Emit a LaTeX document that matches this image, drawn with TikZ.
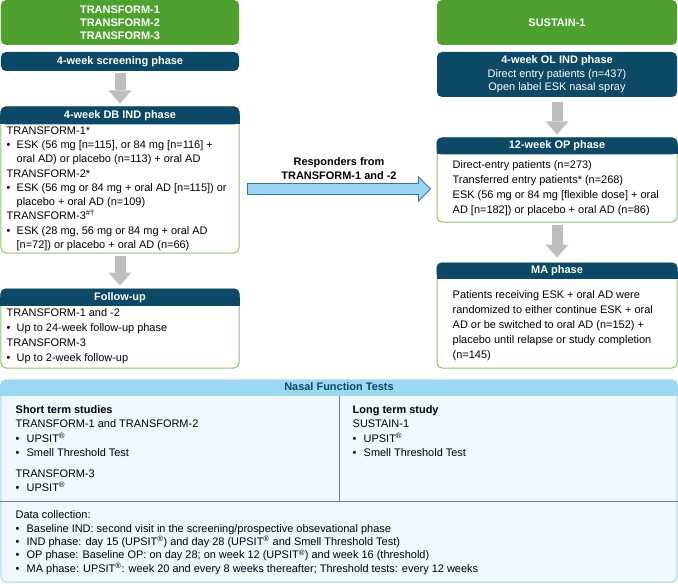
\documentclass[tikz,border=0pt]{standalone}
\usepackage{fontspec}
\setmainfont{Liberation Sans}
\usetikzlibrary{arrows.meta,positioning,calc}

\definecolor{studygreen}{RGB}{79,161,47}
\definecolor{phasenavy}{RGB}{11,73,102}
\definecolor{boxgreen}{RGB}{141,198,106}
\definecolor{arrowgrey}{RGB}{190,190,190}
\definecolor{nasalblue}{RGB}{157,215,241}
\definecolor{nasalbg}{RGB}{238,248,253}
\definecolor{respblue}{RGB}{157,214,242}
\definecolor{respline}{RGB}{52,118,172}
\definecolor{divgrey}{RGB}{125,125,125}

\tikzset{
  study/.style={fill=studygreen, text=white, rounded corners=5bp, minimum width=238bp,
    minimum height=45bp, inner sep=0pt, align=center, font=\fontsize{11}{13}\selectfont\bfseries},
  navybox/.style={fill=phasenavy, text=white, rounded corners=5bp, minimum width=238bp,
    inner sep=0pt, align=center, font=\fontsize{11}{13.5}\selectfont},
  phasebody/.style={draw=boxgreen, fill=white, line width=1bp, rounded corners=5bp,
    minimum width=238bp, inner sep=0pt},
  headtext/.style={text=white, inner sep=0pt, font=\fontsize{11}{13}\selectfont\bfseries,
    text height=8bp, text depth=2bp},
  bodytext/.style={anchor=north west, align=left, inner sep=0pt, font=\fontsize{11}{15}\selectfont},
  blockarrow/.style={draw=arrowgrey, line width=11bp,
    -{Triangle[width=23bp,length=13bp,line width=0pt]}, shorten <=2bp, shorten >=3bp},
  resparrow/.style={draw=respline, fill=respblue, line width=0.8bp},
}

% dark header strip over the top of a body node
\newcommand{\phasehead}[4]{%
  \fill[#4, rounded corners=5bp] (#1.north west) rectangle ($(#1.north east)+(0,#2)$);
  \fill[#4] ($(#1.north west)+(0,#2/2)$) rectangle ($(#1.north east)+(0,#2)$);
  \node[headtext] (#1 head) at ($(#1.north)+(0,#2/2)$) {#3};
}
\newcommand{\itm}[1][10bp]{\makebox[#1][l]{•}}

\begin{document}
\begin{tikzpicture}[x=1bp,y=-1bp]
  \useasboundingbox (0,0) rectangle (678,584);

  % left column: TRANSFORM studies
  \node[study] (tf) at (120,22.5) {TRANSFORM-1\\TRANSFORM-2\\TRANSFORM-3};
  \node[navybox, minimum height=19bp, font=\fontsize{11}{13}\selectfont\bfseries] (screen) at (120,61.5) {4-week screening phase};

  \node[phasebody, minimum height=146bp] (dbind) at (120,180) {};
  \phasehead{dbind}{18}{4-week DB IND phase}{phasenavy}
  \node[bodytext, font=\fontsize{11}{14.3}\selectfont] (dbind text) at ($(dbind.north west)+(6,20)$)
    {TRANSFORM-1*\\
     \itm ESK (56 mg [n=115], or 84 mg [n=116] +\\
     \hspace*{10bp}oral AD) or placebo (n=113) + oral AD\\
     TRANSFORM-2*\\
     \itm ESK (56 mg or 84 mg + oral AD [n=115]) or\\
     \hspace*{10bp}placebo + oral AD (n=109)\\
     TRANSFORM-3\textsuperscript{\#†}\\
     \itm ESK (28 mg, 56 mg or 84 mg + oral AD\\
     \hspace*{10bp}[n=72]) or placebo + oral AD (n=66)};

  \node[phasebody, minimum height=79bp] (follow) at (120,328.5) {};
  \phasehead{follow}{17}{Follow-up}{phasenavy}
  \node[bodytext] (follow text) at ($(follow.north west)+(6,20)$)
    {TRANSFORM-1 and -2\\
     \itm Up to 24-week follow-up phase\\
     TRANSFORM-3\\
     \itm Up to 2-week follow-up};

  % right column: SUSTAIN-1
  \node[study, minimum width=240bp] (sustain) at (557,22.5) {SUSTAIN-1};
  \node[navybox, minimum width=240bp, minimum height=45bp] (olind) at (557,74.5)
    {\textbf{4-week OL IND phase}\\Direct entry patients (n=437)\\Open label ESK nasal spray};

  \node[phasebody, minimum width=240bp, minimum height=84bp] (op) at (557,180) {};
  \phasehead{op}{17}{12-week OP phase}{phasenavy}
  \node[bodytext] (op text) at ($(op.north west)+(16,23)$)
    {Direct-entry patients (n=273)\\
     Transferred entry patients* (n=268)\\
     ESK (56 mg or 84 mg [flexible dose] + oral\\
     AD [n=182]) or placebo + oral AD (n=86)};

  \node[phasebody, minimum width=240bp, minimum height=105bp] (ma) at (557,315.5) {};
  \phasehead{ma}{16}{MA phase}{phasenavy}
  \node[bodytext] (ma text) at ($(ma.north west)+(16,28)$)
    {Patients receiving ESK + oral AD were\\
     randomized to either continue ESK + oral\\
     AD or be switched to oral AD (n=152) +\\
     placebo until relapse or study completion\\
     (n=145)};

  % phase arrows
  \draw[blockarrow] (screen) -- (dbind);
  \draw[blockarrow] (dbind) -- (follow);
  \draw[blockarrow, shorten <=5bp] (olind) -- (op);
  \draw[blockarrow, shorten >=5bp] (op) -- (ma);

  % responders arrow
  \coordinate (resp start) at ($(dbind.east)+(8,9)$);
  \coordinate (resp tip) at ($(op.west)+(-6,9)$);
  \draw[resparrow] ($(resp start)+(0,-5.5)$) -- ($(resp tip)+(-12,-5.5)$) -- ($(resp tip)+(-12,-12)$)
    -- (resp tip) -- ($(resp tip)+(-12,12)$) -- ($(resp tip)+(-12,5.5)$) -- ($(resp start)+(0,5.5)$) -- cycle;
  \node[align=center, inner sep=0pt, font=\fontsize{11}{13.3}\selectfont\bfseries] (resp label)
    at ($(resp start)!0.5!(resp tip)+(0,-20.5)$) {Responders from\\TRANSFORM-1 and -2};

  % nasal function tests
  \node[draw=nasalblue, fill=nasalbg, line width=1bp, rounded corners=5bp, minimum width=676bp,
    minimum height=202bp, inner sep=0pt] (nasal) at (339,481) {};
  \fill[nasalblue, rounded corners=5bp] (nasal.north west) rectangle ($(nasal.north east)+(0,16)$);
  \fill[nasalblue] ($(nasal.north west)+(0,8)$) rectangle ($(nasal.north east)+(0,16)$);
  \node[headtext, text=phasenavy] (nasal head) at ($(nasal.north)+(0,8)$) {Nasal Function Tests};
  \draw[divgrey, line width=0.7bp] ($(nasal.north west)+(0,122)$) -- ($(nasal.north east)+(0,122)$);
  \draw[divgrey, line width=0.7bp] ($(nasal.north)+(0,16)$) -- ($(nasal.north)+(0,122)$);

  \node[bodytext, font=\fontsize{11}{14.4}\selectfont] (short text) at ($(nasal.north west)+(15,26)$)
    {\textbf{Short term studies}\\
     TRANSFORM-1 and TRANSFORM-2\\
     \itm[11bp]UPSIT\textsuperscript{®}\\
     \itm[11bp]Smell Threshold Test\\[6.5bp]
     TRANSFORM-3\\
     \itm[11bp]UPSIT\textsuperscript{®}};
  \node[bodytext, font=\fontsize{11}{14.4}\selectfont] (long text) at ($(nasal.north west)+(352,26)$)
    {\textbf{Long term study}\\
     SUSTAIN-1\\
     \itm[11bp]UPSIT\textsuperscript{®}\\
     \itm[11bp]Smell Threshold Test};
  \node[bodytext, font=\fontsize{11}{13.5}\selectfont] (data text) at ($(nasal.north west)+(15,131)$)
    {Data collection:\\
     \itm[11bp]Baseline IND: second visit in the screening/prospective obsevational phase\\
     \itm[11bp]IND phase: day 15 (UPSIT\textsuperscript{®}) and day 28 (UPSIT\textsuperscript{®} and Smell Threshold Test)\\
     \itm[11bp]OP phase: Baseline OP: on day 28; on week 12 (UPSIT\textsuperscript{®}) and week 16 (threshold)\\
     \itm[11bp]MA phase: UPSIT\textsuperscript{®}: week 20 and every 8 weeks thereafter; Threshold tests: every 12 weeks};
\end{tikzpicture}
\end{document}
